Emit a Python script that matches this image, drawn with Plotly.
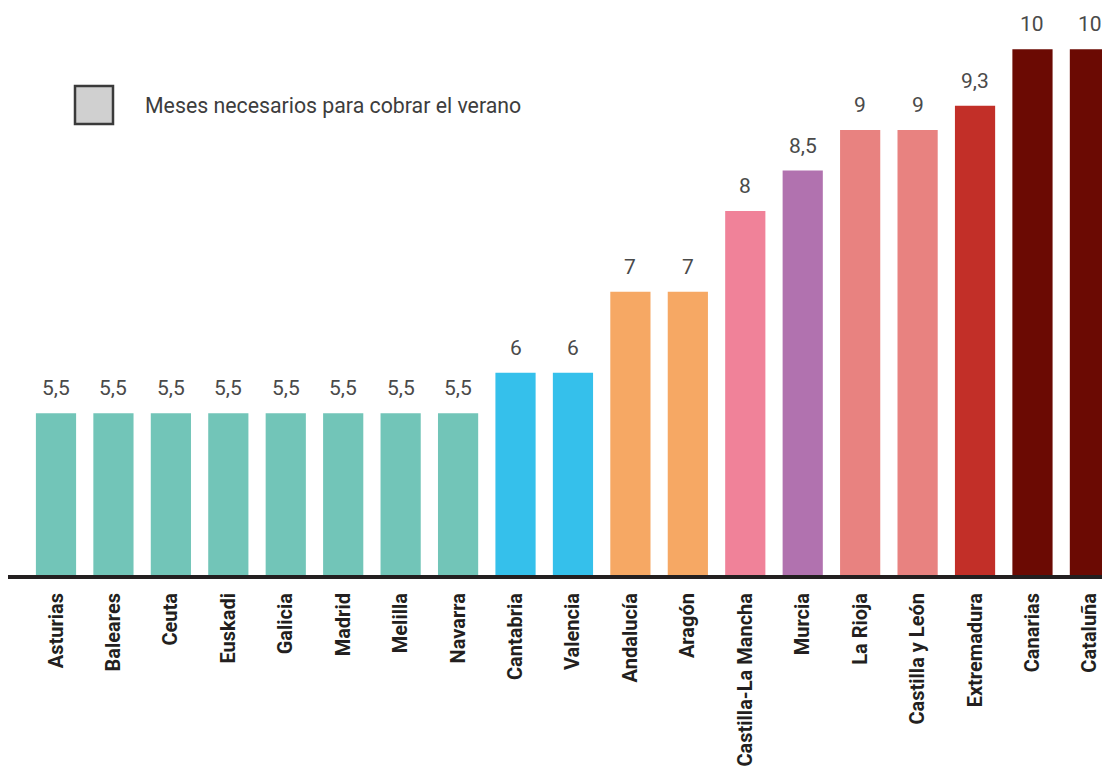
import plotly.graph_objects as go

regions = ["Asturias", "Baleares", "Ceuta", "Euskadi", "Galicia", "Madrid", "Melilla", "Navarra",
           "Cantabria", "Valencia", "Andalucía", "Aragón", "Castilla-La Mancha", "Murcia",
           "La Rioja", "Castilla y León", "Extremadura", "Canarias", "Cataluña"]
months = [5.5, 5.5, 5.5, 5.5, 5.5, 5.5, 5.5, 5.5, 6, 6, 7, 7, 8, 8.5, 9, 9, 9.3, 10, 10]
colors = ["#72C5B8"] * 8 + ["#35C0EB"] * 2 + ["#F6A864"] * 2 + ["#F08299", "#B172AF",
          "#E88280", "#E88280", "#C22F28", "#6B0A03", "#6B0A03"]
legend_label = "Meses necesarios para cobrar el verano"

def fmt(v):
    s = ("%g" % v)
    return s.replace(".", ",")

# page offset of 8px (body margin) compensated
W, H = 1102, 766
PLOT_H = 567

fig = go.Figure()
fig.add_trace(go.Bar(
    x=list(range(len(regions))), y=months,
    marker=dict(color=colors, line=dict(width=0)),
    hoverinfo="skip", showlegend=False,
))

for i, v in enumerate(months):
    fig.add_annotation(x=i, y=v, text=fmt(v), showarrow=False, xref="x", yref="y",
                       yanchor="bottom", yshift=11,
                       font=dict(family="Roboto", size=21, color="#4a4a4a"))

# legend box (page coords minus 8)
fig.add_shape(type="rect", xref="paper", yref="paper",
              x0=(75 - 8) / W, x1=(113 - 8) / W,
              y0=(PLOT_H - (124 - 8)) / PLOT_H, y1=(PLOT_H - (86 - 8)) / PLOT_H,
              fillcolor="#D0D0D0", line=dict(color="#3a3a3a", width=2.5))
fig.add_annotation(xref="paper", yref="paper", x=(143 - 8) / W, y=(PLOT_H - (105 - 8)) / PLOT_H,
                   xanchor="left", yanchor="middle", showarrow=False, text=legend_label,
                   font=dict(family="Roboto", size=21.3, color="#3d3d3d"))

px_per_unit = 80.9
x_left = (8 - 56) / 57.44
x_right = (1110 - 56) / 57.44

fig.update_layout(
    width=W, height=H,
    margin=dict(l=0, r=0, t=0, b=H - PLOT_H),
    paper_bgcolor="white", plot_bgcolor="white",
    bargap=0.30,
    xaxis=dict(
        range=[x_left, x_right],
        tickmode="array", tickvals=list(range(len(regions))), ticktext=regions,
        tickangle=-90, ticks="", showgrid=False, zeroline=False,
        showline=True, linecolor="#231f20", linewidth=4,
        tickfont=dict(family="Roboto", size=20, color="#231f20", weight="bold"),
        ticklabelstandoff=6,
    ),
    yaxis=dict(range=[3.5, 3.5 + PLOT_H / px_per_unit], visible=False,
               showgrid=False, zeroline=False),
)

fig.write_html("out.html")
